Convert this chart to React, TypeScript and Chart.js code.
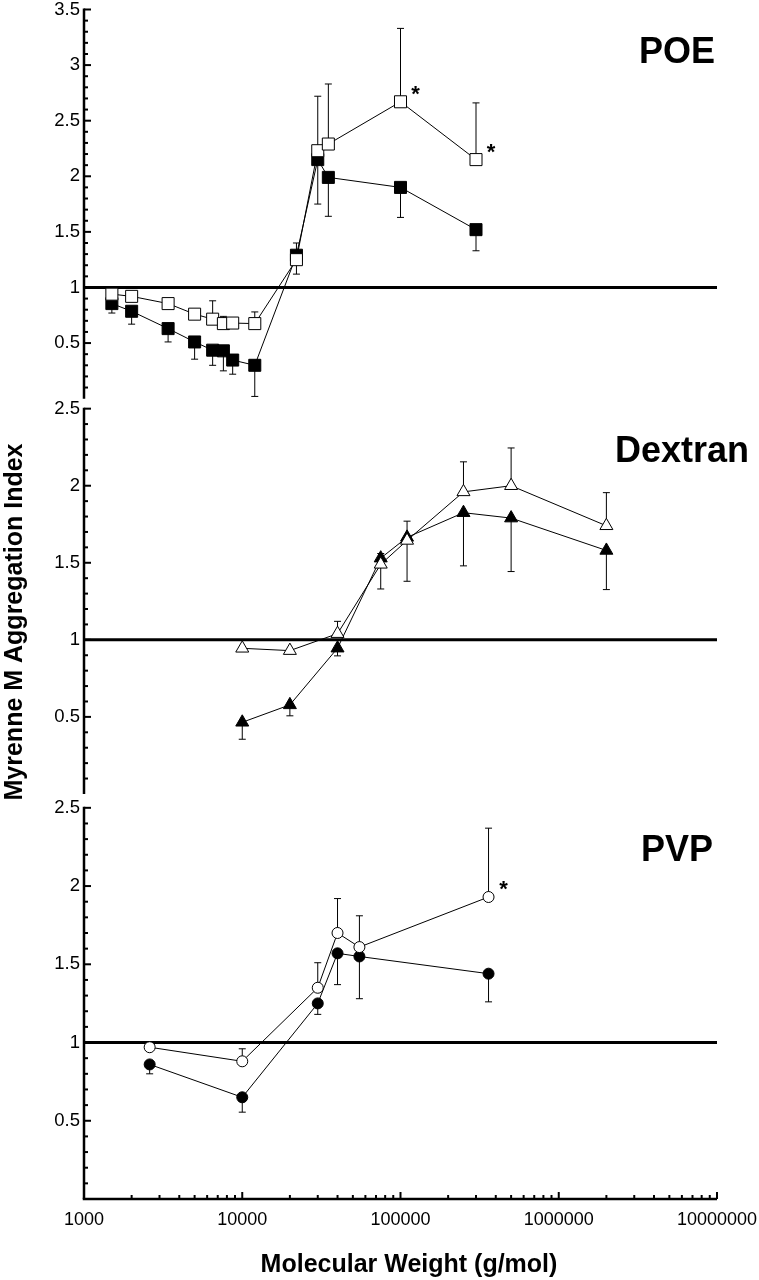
import React, { useEffect, useRef } from "react";
import { Chart, registerables } from "chart.js";

Chart.register(...registerables);

// ---------- data ----------
const xDecades = [1000, 10000, 100000, 1000000, 10000000];
const refLevel = 1;

const poeYTicks = [0.5, 1, 1.5, 2, 2.5, 3, 3.5];
const panelYTicks = [0.5, 1, 1.5, 2, 2.5];
const panelNames = ["POE", "Dextran", "PVP"];

const poeMW = [1500, 2000, 3400, 5000, 6500, 7600, 8700, 12000, 22000, 30000, 35000, 100000, 300000];
const poeOpen = [0.94, 0.92, 0.855, 0.76, 0.715, 0.675, 0.68, 0.675, 1.25, 2.23, 2.29, 2.67, 2.15];
const poeOpenHi = [null, null, null, null, 0.88, 0.74, null, 0.78, null, 2.72, 2.83, 3.33, 2.66];
const poeOpenLo = [null, null, null, null, null, null, null, null, 1.12, null, null, null, null];
const poeFilled = [0.855, 0.786, 0.63, 0.51, 0.436, 0.43, 0.347, 0.3, 1.29, 2.15, 1.99, 1.9, 1.52];
const poeFilledHi = [null, null, null, null, null, null, null, null, 1.4, null, null, null, null];
const poeFilledLo = [0.77, 0.67, 0.51, 0.355, 0.3, 0.25, 0.22, 0.02, null, 1.75, 1.64, 1.63, 1.33];
const poeStars = [11, 12];

const dexMW = [10000, 20000, 40000, 75000, 110000, 250000, 500000, 2000000];
const dexOpen = [0.945, 0.93, 1.04, 1.49, 1.645, 1.96, 2.0, 1.74];
const dexOpenHi = [null, null, 1.12, 1.56, 1.77, 2.155, 2.245, 1.955];
const dexFilled = [0.465, 0.578, 0.946, 1.53, 1.665, 1.825, 1.79, 1.58];
const dexFilledLo = [0.355, 0.507, 0.896, 1.33, 1.38, 1.48, 1.443, 1.326];

const pvpMW = [2600, 10000, 30000, 40000, 55000, 360000];
const pvpOpen = [0.97, 0.88, 1.35, 1.7, 1.61, 1.93];
const pvpOpenHi = [null, 0.96, 1.51, 1.92, 1.81, 2.37];
const pvpFilled = [0.86, 0.65, 1.25, 1.57, 1.55, 1.44];
const pvpFilledLo = [0.8, 0.555, 1.18, 1.37, 1.28, 1.26];
const pvpStars = [5];

const FONT = "'Liberation Sans', Arial, Helvetica, sans-serif";

const pts = (xs: number[], ys: number[]) => xs.map((x, i) => ({ x, y: ys[i] }));

function series(
  xs: number[], ys: number[], yAxisID: string, style: string, radius: number,
  filled: boolean, errHi: any, errLo: any, stars?: number[]
) {
  return {
    data: pts(xs, ys),
    yAxisID,
    xAxisID: "x",
    showLine: true,
    borderColor: "#000",
    borderWidth: 1,
    pointStyle: style,
    pointRadius: radius,
    pointHoverRadius: radius,
    pointBorderWidth: 1,
    pointBorderColor: "#000",
    pointBackgroundColor: filled ? "#000" : "#fff",
    errHi,
    errLo,
    stars: stars || [],
  } as any;
}

function refLine(yAxisID: string) {
  return {
    data: [
      { x: xDecades[0], y: refLevel },
      { x: xDecades[xDecades.length - 1], y: refLevel },
    ],
    yAxisID,
    xAxisID: "x",
    showLine: true,
    borderColor: "#000",
    borderWidth: 3,
    pointRadius: 0,
    pointHoverRadius: 0,
  } as any;
}

const decor = {
  id: "decor",
  beforeDatasetsDraw(chart: any) {
    const ctx = chart.ctx;
    ctx.save();
    ctx.strokeStyle = "#000";
    ctx.lineWidth = 1;
    chart.data.datasets.forEach((ds: any, i: number) => {
      const meta = chart.getDatasetMeta(i);
      const ys = chart.scales[ds.yAxisID];
      [ds.errHi, ds.errLo].forEach((arr: any) => {
        if (!arr) return;
        arr.forEach((e: any, j: number) => {
          if (e == null) return;
          const p = meta.data[j];
          const ye = ys.getPixelForValue(e);
          ctx.beginPath();
          ctx.moveTo(p.x, p.y);
          ctx.lineTo(p.x, ye);
          ctx.moveTo(p.x - 3.5, ye);
          ctx.lineTo(p.x + 3.5, ye);
          ctx.stroke();
        });
      });
    });
    ctx.restore();
  },
  afterDatasetsDraw(chart: any) {
    const ctx = chart.ctx;
    const area = chart.chartArea;
    ctx.save();
    ctx.strokeStyle = "#000";
    ctx.fillStyle = "#000";
    // y axes
    const yIds = ["yPOE", "yDex", "yPVP"];
    yIds.forEach((id) => {
      const s = chart.scales[id];
      const x0 = area.left;
      const yTop = s.getPixelForValue(s.max);
      const yBot = s.getPixelForValue(0);
      ctx.lineWidth = 2.5;
      ctx.beginPath();
      ctx.moveTo(x0, yTop - 1);
      ctx.lineTo(x0, yBot);
      ctx.stroke();
      ctx.lineWidth = 2;
      const n = Math.round(s.max * 10);
      for (let k = 1; k <= n; k++) {
        const y = s.getPixelForValue(k / 10);
        const len = k % 5 === 0 ? 7 : 4;
        ctx.beginPath();
        ctx.moveTo(x0, y);
        ctx.lineTo(x0 + len, y);
        ctx.stroke();
      }
    });
    // x axis
    const xs = chart.scales.x;
    const y0 = area.bottom;
    ctx.lineWidth = 2.5;
    ctx.beginPath();
    ctx.moveTo(area.left - 1.25, y0);
    ctx.lineTo(area.right, y0);
    ctx.stroke();
    ctx.lineWidth = 2;
    for (let d = 0; d < xDecades.length; d++) {
      const dec = xDecades[d];
      if (d > 0) {
        const x = xs.getPixelForValue(dec);
        ctx.beginPath();
        ctx.moveTo(x, y0);
        ctx.lineTo(x, y0 - 7);
        ctx.stroke();
      }
      if (d < xDecades.length - 1) {
        for (let m = 2; m <= 9; m++) {
          const x = xs.getPixelForValue(dec * m);
          ctx.beginPath();
          ctx.moveTo(x, y0);
          ctx.lineTo(x, y0 - 4);
          ctx.stroke();
        }
      }
    }
    // panel names
    const nameRight = [area.right - 2, area.right + 32, area.right - 4];
    ctx.font = `bold 36px ${FONT}`;
    ctx.textAlign = "right";
    ctx.textBaseline = "alphabetic";
    yIds.forEach((id, i) => {
      const s = chart.scales[id];
      ctx.fillText(panelNames[i], nameRight[i], s.getPixelForValue(s.max) + 53);
    });
    // stars
    ctx.font = `bold 22px ${FONT}`;
    ctx.textAlign = "center";
    chart.data.datasets.forEach((ds: any, i: number) => {
      if (!ds.stars || !ds.stars.length) return;
      const meta = chart.getDatasetMeta(i);
      ds.stars.forEach((j: number) => {
        const p = meta.data[j];
        ctx.fillText("*", p.x + 15, p.y - 1);
      });
    });
    // axis titles
    ctx.font = `bold 25px ${FONT}`;
    ctx.textAlign = "center";
    ctx.fillText("Molecular Weight (g/mol)", 409, 1272);
    ctx.save();
    ctx.translate(22, 622);
    ctx.rotate(-Math.PI / 2);
    ctx.fillText("Myrenne M Aggregation Index", 0, 0);
    ctx.restore();
    ctx.restore();
  },
};

function yScale(min: number, max: number, ticksArr: number[], weight: number, stackWeight: number) {
  return {
    type: "linear",
    position: "left",
    stack: "panels",
    stackWeight,
    weight,
    min,
    max,
    grid: { display: false, drawTicks: false },
    border: { display: false },
    ticks: {
      color: "#000",
      padding: 4,
      font: { family: FONT, size: 18.5, lineHeight: 0.7 },
      callback: (v: any) => String(v),
    },
    afterBuildTicks: (s: any) => {
      s.ticks = ticksArr.map((v) => ({ value: v }));
    },
    afterFit: (s: any) => {
      s.width = 84;
      s.paddingTop = 0;
      s.paddingBottom = 0;
    },
  } as any;
}

export default function App() {
  const ref = useRef<HTMLCanvasElement | null>(null);
  useEffect(() => {
    if (!ref.current) return;
    const chart = new Chart(ref.current, {
      type: "scatter",
      data: {
        datasets: [
          series(poeMW, poeOpen, "yPOE", "rect", 8.5, false, poeOpenHi, poeOpenLo, poeStars),
          series(poeMW, poeFilled, "yPOE", "rect", 8.5, true, poeFilledHi, poeFilledLo),
          series(dexMW, dexOpen, "yDex", "triangle", 7.5, false, dexOpenHi, null),
          series(dexMW, dexFilled, "yDex", "triangle", 7.5, true, null, dexFilledLo),
          series(pvpMW, pvpOpen, "yPVP", "circle", 5.5, false, pvpOpenHi, null, pvpStars),
          series(pvpMW, pvpFilled, "yPVP", "circle", 5.5, true, null, pvpFilledLo),
          refLine("yPOE"),
          refLine("yDex"),
          refLine("yPVP"),
        ],
      },
      options: {
        responsive: false,
        animation: false,
        events: [],
        layout: { padding: { top: 7, right: 42, left: 0, bottom: 0 } },
        plugins: { legend: { display: false }, tooltip: { enabled: false }, title: { display: false } },
        scales: {
          x: {
            type: "logarithmic",
            position: "bottom",
            min: xDecades[0],
            max: xDecades[xDecades.length - 1],
            grid: { display: false, drawTicks: false },
            border: { display: false },
            ticks: {
              color: "#000",
              padding: 10,
              maxRotation: 0,
              autoSkip: false,
              font: { family: FONT, size: 18 },
              callback: (v: any) => String(v),
            },
            afterBuildTicks: (s: any) => {
              s.ticks = xDecades.map((v) => ({ value: v }));
            },
            afterFit: (s: any) => {
              s.height = 81;
              s.paddingLeft = 0;
              s.paddingRight = 0;
            },
          } as any,
          yPOE: yScale(-0.09, 3.5, poeYTicks, 3, 400),
          yDex: yScale(-0.09, 2.5, panelYTicks, 2, 400),
          yPVP: yScale(0, 2.5, panelYTicks, 1, 392),
        },
      } as any,
      plugins: [decor],
    });
    return () => chart.destroy();
  }, []);
  return (
    <div style={{ position: "fixed", left: 0, top: 0, width: 759, height: 1280, background: "#fff" }}>
      <canvas ref={ref} width={759} height={1280} style={{ display: "block" }} />
    </div>
  );
}
